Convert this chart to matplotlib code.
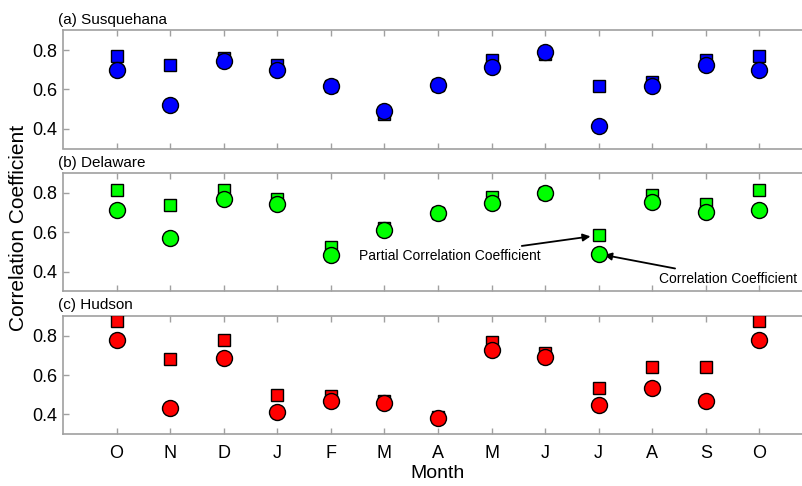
import matplotlib
matplotlib.use("Agg")
import matplotlib.pyplot as plt
import numpy as np

plt.rcParams['font.family'] = ['Liberation Sans', 'DejaVu Sans']

months = ["O", "N", "D", "J", "F", "M", "A", "M", "J", "J", "A", "S", "O"]
panel_titles = ["(a) Susquehana", "(b) Delaware", "(c) Hudson"]

# correlation coefficient (circles)
corr_susq = [0.70, 0.52, 0.745, 0.70, 0.62, 0.49, 0.625, 0.715, 0.79, 0.415, 0.62, 0.725, 0.70]
corr_dela = [0.715, 0.57, 0.77, 0.745, 0.485, 0.612, 0.697, 0.75, 0.80, 0.49, 0.755, 0.705, 0.715]
corr_huds = [0.78, 0.432, 0.685, 0.41, 0.47, 0.46, 0.383, 0.727, 0.69, 0.447, 0.535, 0.47, 0.78]

# partial correlation coefficient (squares)
part_susq = [0.77, 0.725, 0.76, 0.725, 0.62, 0.475, 0.625, 0.75, 0.78, 0.62, 0.64, 0.75, 0.77]
part_dela = [0.815, 0.74, 0.815, 0.77, 0.525, 0.62, 0.70, 0.78, 0.80, 0.585, 0.79, 0.745, 0.815]
part_huds = [0.875, 0.68, 0.78, 0.50, 0.495, 0.47, 0.385, 0.77, 0.71, 0.533, 0.64, 0.64, 0.875]

colors = ["#0000ff", "#00ff00", "#ff0000"]
corr_all = [corr_susq, corr_dela, corr_huds]
part_all = [part_susq, part_dela, part_huds]

W, H = 802, 486
fig = plt.figure(figsize=(W / 100, H / 100), dpi=100)

left = 63 / W
width = 750 / W
tops = [30.5, 173.3, 316]
ph = 118

x = np.arange(len(months))
gray = "#a0a0a0"
axes = []
for i in range(3):
    bottom = 1 - (tops[i] + ph) / H
    ax = fig.add_axes([left, bottom, width, ph / H])
    axes.append(ax)
    ax.plot(x, part_all[i], linestyle='none', marker='s', markersize=9,
            markerfacecolor=colors[i], markeredgecolor='k', markeredgewidth=1.0, zorder=3)
    ax.plot(x, corr_all[i], linestyle='none', marker='o', markersize=11.5,
            markerfacecolor=colors[i], markeredgecolor='k', markeredgewidth=1.0, zorder=4)
    ax.set_xlim(-1, 13)
    ax.set_ylim(0.3, 0.9)
    ax.set_yticks([0.4, 0.6, 0.8])
    ax.set_yticklabels(["0.4", "0.6", "0.8"])
    ax.set_xticks(x)
    if i == 2:
        ax.set_xticklabels(months)
    else:
        ax.set_xticklabels([])
    for s in ax.spines.values():
        s.set_color(gray)
        s.set_linewidth(1.2)
    ax.spines['right'].set_visible(False)
    ax.tick_params(axis='both', direction='in', length=4, width=1, color=gray,
                   labelsize=13, pad=4, top=True, right=False)
    ax.tick_params(axis='x', pad=8)
    ax.text(-0.0065, 1.03, panel_titles[i], transform=ax.transAxes, ha='left', va='bottom',
            fontsize=11)

axes[2].set_xlabel("Month", fontsize=14, labelpad=2)
fig.text(19 / W, 1 - 228 / H, "Correlation Coefficient", rotation=90, ha='center', va='center',
         fontsize=15)

axb = axes[1]
axb.annotate("Partial Correlation Coefficient", xy=(9, part_dela[9]), xytext=(7.92, 0.48),
             ha='right', va='center', fontsize=10,
             arrowprops=dict(arrowstyle='-|>', color='k', lw=1.3, mutation_scale=11,
                             shrinkA=1, shrinkB=6))
axb.annotate("Correlation Coefficient", xy=(9, corr_dela[9]), xytext=(10.12, 0.365),
             ha='left', va='center', fontsize=10,
             arrowprops=dict(arrowstyle='-|>', color='k', lw=1.3, mutation_scale=11,
                             shrinkA=1, shrinkB=4))

fig.savefig("out.png", dpi=100)
